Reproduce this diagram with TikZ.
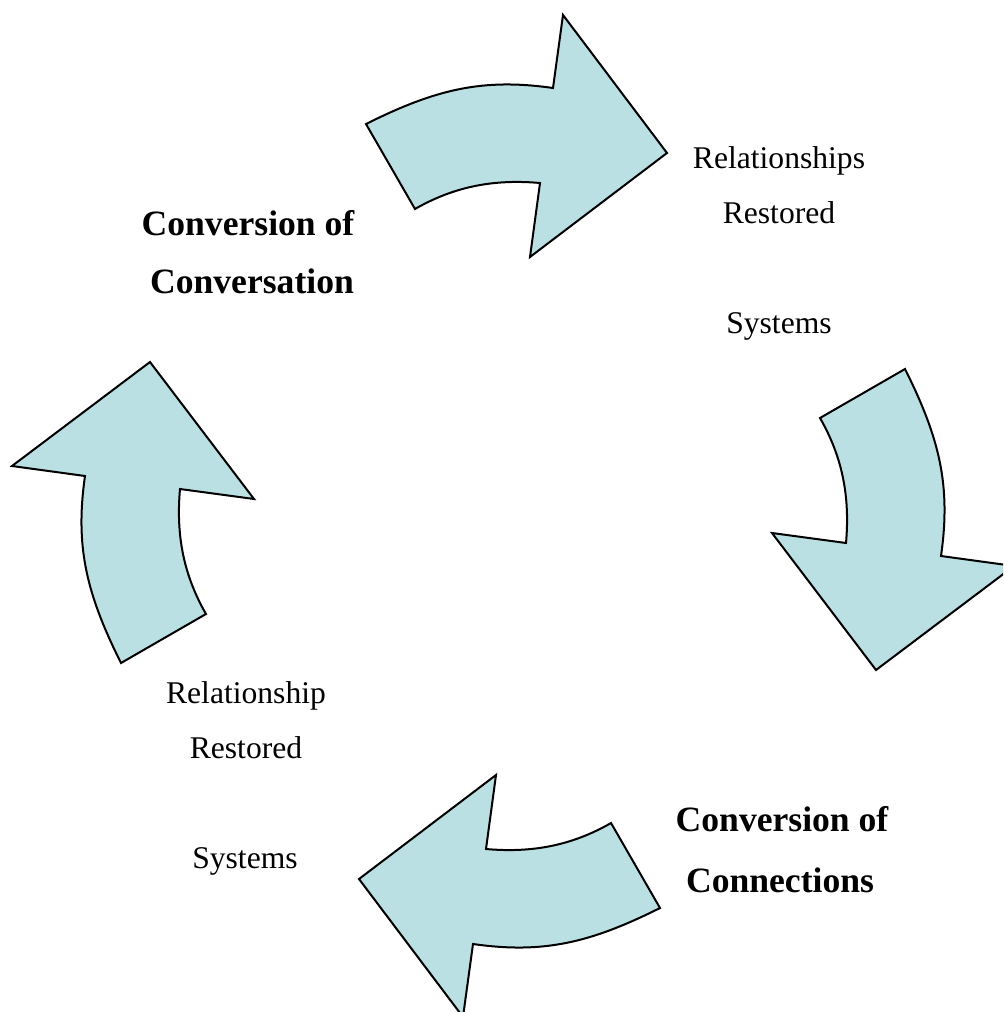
\documentclass[tikz,border=0pt]{standalone}
\usepackage{fontspec}
\setmainfont{Liberation Serif}
\usepackage{xcolor}

\definecolor{arrowfill}{HTML}{BBE0E3}

\tikzset{
  cyclearrow/.style={fill=arrowfill, draw=black, line width=1pt, line join=miter},
  plainlabel/.style={inner sep=0pt, anchor=base, font=\fontsize{15.8}{19}\selectfont},
  boldlabel/.style={inner sep=0pt, anchor=base, font=\fontsize{17.8}{21}\selectfont\bfseries}
}

\begin{document}
\begin{tikzpicture}[x=0.5pt, y=-0.5pt]
  \useasboundingbox (0,0) rectangle (1003,1012);
  \clip (0,0) rectangle (1003,1012);

  % four curved arrows turning round the middle
  \foreach \a in {0,90,180,270}
  {
    \begin{scope}[shift={(513,516)}, rotate=\a]
      \draw[cyclearrow] (-147,-392)
        .. controls (-77,-427) and (-30,-438) .. (40,-428)
        -- (50,-501) -- (154,-363) -- (17,-259) -- (27,-333)
        .. controls (-18,-337) and (-58,-330) .. (-98,-307)
        -- cycle;
    \end{scope}
  }

  % labels
  \node[boldlabel] (conv1a) at (248,235) {Conversion of};
  \node[boldlabel] (conv1b) at (252,293) {Conversation};

  \node[plainlabel] (rel1a) at (779,168) {Relationships};
  \node[plainlabel] (rel1b) at (779,223) {Restored};
  \node[plainlabel] (sys1)  at (779,333) {Systems};

  \node[plainlabel] (rel2a) at (246,703) {Relationship};
  \node[plainlabel] (rel2b) at (246,758) {Restored};
  \node[plainlabel] (sys2)  at (245,868) {Systems};

  \node[boldlabel] (conv2a) at (782,831) {Conversion of};
  \node[boldlabel] (conv2b) at (780,892) {Connections};

\end{tikzpicture}
\end{document}
